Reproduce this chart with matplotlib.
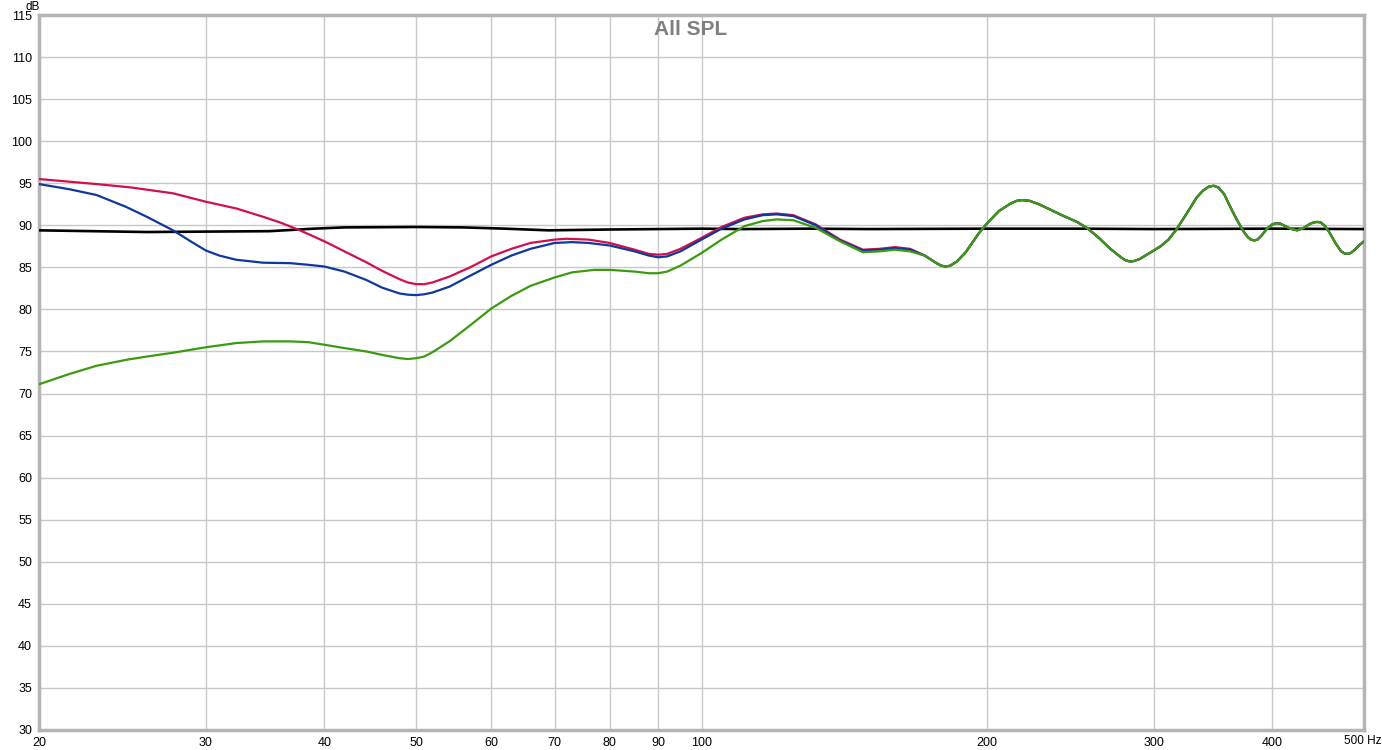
import matplotlib
matplotlib.use("Agg")
import matplotlib.pyplot as plt
import numpy as np

# --- data (Hz, dB) ---
black_f = [20, 26, 30, 35, 39, 42, 50, 56, 62, 69, 80, 90, 100, 110, 130, 150, 200, 250, 300, 400, 500]
black_db = [89.4, 89.2, 89.25, 89.3, 89.6, 89.75, 89.8, 89.75, 89.6, 89.4, 89.5, 89.55, 89.6, 89.55,
            89.6, 89.55, 89.6, 89.6, 89.55, 89.6, 89.55]

red_f = [20, 23, 25, 27.7, 30, 32.3, 34.5, 36, 37.7, 40, 42, 44.3, 46, 48, 49, 50, 51, 52, 54.2, 57,
         60, 63, 66, 70, 72, 76, 80, 85, 88, 90, 92, 95, 100, 105, 111, 116, 120, 125, 132, 140, 148,
         154, 160, 166]
red_db = [95.5, 94.9, 94.5, 93.8, 92.8, 92.0, 91.0, 90.3, 89.4, 88.1, 86.9, 85.6, 84.6, 83.6, 83.2,
          83.0, 83.0, 83.2, 83.9, 85.0, 86.3, 87.2, 87.9, 88.3, 88.4, 88.3, 87.9, 87.1, 86.6, 86.5,
          86.6, 87.2, 88.5, 89.8, 90.9, 91.3, 91.4, 91.2, 90.1, 88.3, 87.1, 87.2, 87.4, 87.2]

blue_f = [20, 21.5, 23, 24.7, 26, 27.7, 29, 30, 31, 32.3, 34.5, 36.8, 38.5, 40, 42, 44.3, 46, 48, 49,
          50, 51, 52, 54.2, 57, 60, 63, 66, 70, 73, 76, 80, 85, 88, 90, 92, 95, 100, 105, 111, 116,
          120, 125, 132, 140, 148, 154, 160, 166]
blue_db = [94.9, 94.3, 93.6, 92.2, 91.0, 89.4, 88.0, 87.0, 86.4, 85.9, 85.55, 85.5, 85.3, 85.1, 84.5,
           83.5, 82.6, 81.9, 81.75, 81.7, 81.8, 82.0, 82.7, 84.0, 85.3, 86.4, 87.2, 87.9, 88.0, 87.9,
           87.6, 86.9, 86.4, 86.2, 86.3, 86.9, 88.3, 89.6, 90.7, 91.2, 91.3, 91.1, 90.0, 88.2, 87.0,
           87.1, 87.3, 87.1]

green_f = [20, 21.5, 23, 24.7, 26, 27.7, 30, 32.3, 34.5, 36.8, 38.5, 40, 42, 44.3, 46, 48, 49, 50,
           51, 52, 54.2, 57, 60, 63, 66, 70, 73, 77, 80, 85, 88, 90, 92, 95, 100, 105, 111, 116, 120,
           125, 132, 140, 148, 154, 160, 166]
green_db = [71.1, 72.3, 73.3, 74.0, 74.4, 74.85, 75.5, 76.0, 76.2, 76.2, 76.1, 75.8, 75.4, 75.0, 74.6,
            74.2, 74.1, 74.2, 74.4, 74.9, 76.2, 78.1, 80.1, 81.6, 82.8, 83.8, 84.4, 84.7, 84.7, 84.5,
            84.3, 84.3, 84.5, 85.2, 86.7, 88.3, 89.9, 90.5, 90.7, 90.6, 89.7, 88.1, 86.8, 86.9, 87.1,
            86.9]

# above ~170 Hz the three measured curves coincide
tail_f = [172, 177, 179, 181, 183, 186, 190, 196, 200, 206, 212, 215, 218, 222, 227, 232, 240, 249,
          255, 262, 270, 277, 280, 283, 286, 290, 297, 305, 311, 317, 325, 333, 338, 343, 347, 351,
          356, 362, 367, 373, 377, 380, 383, 386, 390, 395, 400, 404, 408, 413, 418, 425, 432, 439,
          443, 446, 450, 455, 460, 467, 473, 477, 480, 484, 489, 494, 500]
tail_db = [86.4, 85.5, 85.2, 85.1, 85.2, 85.7, 86.8, 89.0, 90.2, 91.7, 92.6, 92.9, 93.0, 92.9, 92.5,
           92.0, 91.2, 90.4, 89.7, 88.6, 87.2, 86.2, 85.85, 85.7, 85.75, 86.0, 86.7, 87.5, 88.3, 89.5,
           91.4, 93.3, 94.1, 94.6, 94.7, 94.5, 93.7, 92.0, 90.7, 89.3, 88.6, 88.3, 88.2, 88.3, 88.8,
           89.6, 90.1, 90.25, 90.2, 89.9, 89.6, 89.4, 89.7, 90.2, 90.35, 90.4, 90.35, 89.9, 89.1,
           87.8, 86.9, 86.65, 86.6, 86.7, 87.1, 87.6, 88.1]

x_ticks = [20, 30, 40, 50, 60, 70, 80, 90, 100, 200, 300, 400, 500]
x_labels = ["20", "30", "40", "50", "60", "70", "80", "90", "100", "200", "300", "400", ""]
y_ticks = list(range(30, 116, 5))

plt.rcParams["font.family"] = ["Liberation Sans", "DejaVu Sans"]

fig = plt.figure(figsize=(13.82, 7.5), dpi=100)
ax = fig.add_axes([39 / 1382, 20 / 750, 1325 / 1382, 715 / 750])

ax.plot(black_f, black_db, color="#000000", lw=1.9, zorder=3)
ax.plot(red_f + tail_f, red_db + tail_db, color="#d0104c", lw=1.6, zorder=4)
ax.plot(blue_f + tail_f, blue_db + tail_db, color="#10389a", lw=1.6, zorder=5)
ax.plot(green_f + tail_f, green_db + tail_db, color="#3c9a12", lw=1.6, zorder=6)

ax.set_xscale("log")
ax.set_xlim(20, 500)
ax.set_ylim(30, 115)
ax.set_xticks(x_ticks)
ax.set_xticklabels(x_labels)
ax.xaxis.set_minor_locator(matplotlib.ticker.NullLocator())
ax.set_yticks(y_ticks)
ax.tick_params(length=0, labelsize=9, pad=5)
ax.grid(True, color="#c8c8c8", lw=1.0)
ax.set_axisbelow(True)
for s in ax.spines.values():
    s.set_color("#b4b4b4")
    s.set_linewidth(2.5)

ax.annotate("500 Hz", xy=(500, 0), xycoords=("data", "axes fraction"),
            xytext=(-20, -5), textcoords="offset pixels", ha="left", va="top", fontsize=8.5)
ax.annotate("dB", xy=(0, 1), xycoords="axes fraction", xytext=(-14, 5),
            textcoords="offset pixels", ha="left", va="baseline", fontsize=8.5)
ax.text(0.4917, 0.98, "All SPL", transform=ax.transAxes, ha="center", va="center",
        fontsize=15, fontweight="bold", color="#808080")

fig.savefig("out.png", dpi=100)
